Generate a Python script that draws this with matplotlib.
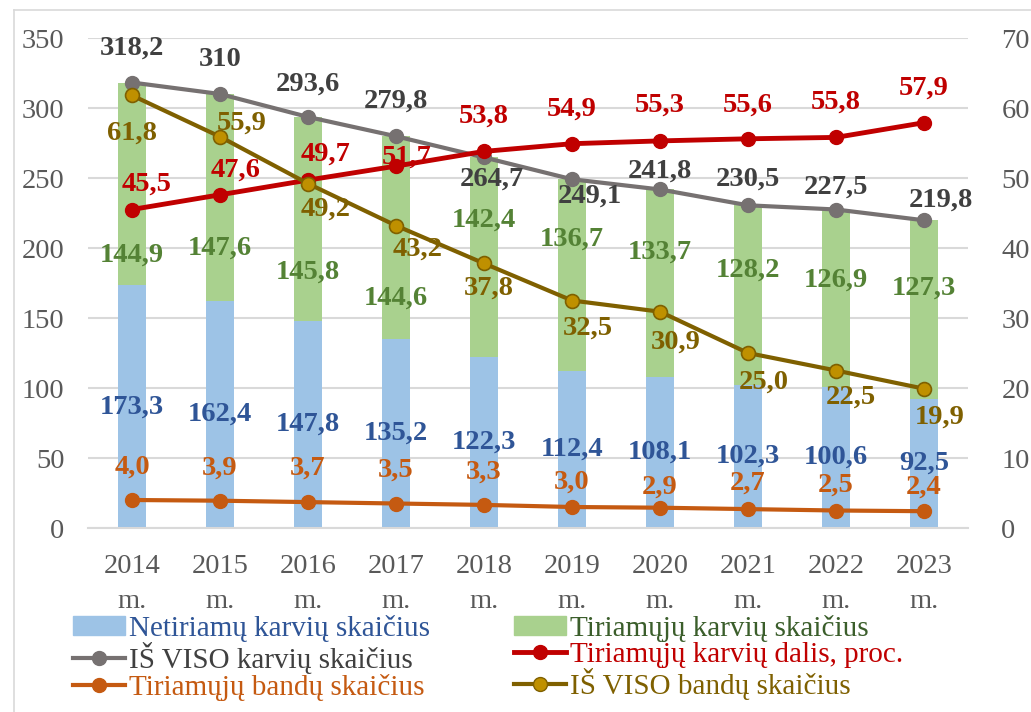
import numpy as np
import matplotlib
matplotlib.use("Agg")
import matplotlib.pyplot as plt
from matplotlib.patches import Patch
from matplotlib.lines import Line2D

plt.rcParams["font.family"] = ["Liberation Serif", "DejaVu Serif"]

years = ["2014\nm.", "2015\nm.", "2016\nm.", "2017\nm.", "2018\nm.",
         "2019\nm.", "2020\nm.", "2021\nm.", "2022\nm.", "2023\nm."]
netiriamu = [173.3, 162.4, 147.8, 135.2, 122.3, 112.4, 108.1, 102.3, 100.6, 92.5]
tiriamuju = [144.9, 147.6, 145.8, 144.6, 142.4, 136.7, 133.7, 128.2, 126.9, 127.3]
is_viso_karviu = [318.2, 310, 293.6, 279.8, 264.7, 249.1, 241.8, 230.5, 227.5, 219.8]
dalis_proc = [45.5, 47.6, 49.7, 51.7, 53.8, 54.9, 55.3, 55.6, 55.8, 57.9]
tir_bandu = [4.0, 3.9, 3.7, 3.5, 3.3, 3.0, 2.9, 2.7, 2.5, 2.4]
is_viso_bandu = [61.8, 55.9, 49.2, 43.2, 37.8, 32.5, 30.9, 25.0, 22.5, 19.9]

# label placement (pixel offsets from the point, as in the source chart)
gray_off = [(0, 34), (0, 35), (0, 33), (0, 35), (8, -22), (18, -17), (0, 18), (0, 26), (0, 22), (17, 20)]
red_off = [(15, 25), (16, 25), (18, 26), (11, 9), (0, 35), (0, 35), (0, 36), (0, 34), (0, 35), (0, 35)]
brown_off = [(0, -38), (22, 14), (18, -26), (22, -24), (5, -25), (16, -28), (16, -30), (16, -29), (15, -27), (16, -28)]
orange_off = [(0, 33), (0, 33), (0, 34), (0, 33), (0, 33), (0, 25), (0, 21), (0, 26), (0, 25), (0, 24)]
green_lbl_y = [195, 200, 183, 164, 220, 206, 197, 184, 177, 171]

c_blue, c_green = "#9DC3E6", "#A9D18E"
c_gray, c_red, c_orange = "#767171", "#C00000", "#C55A11"
c_brown, c_brown_face = "#7F6000", "#BF9000"

fig = plt.figure(figsize=(10.31, 7.12), dpi=100)
ax = fig.add_axes([88 / 1031, 1 - 528 / 712, 880 / 1031, 490 / 712])
ax2 = ax.twinx()

x = np.arange(len(years))
fs = 20.5

ax.bar(x, netiriamu, width=0.31, color=c_blue, zorder=2)
ax.bar(x, tiriamuju, width=0.31, bottom=netiriamu, color=c_green, zorder=2)
ax.plot(x, is_viso_karviu, color=c_gray, lw=3, marker="o", ms=10, zorder=3)

ax2.plot(x, dalis_proc, color=c_red, lw=3.5, marker="o", ms=10, zorder=3)
ax2.plot(x, tir_bandu, color=c_orange, lw=3, marker="o", ms=10, zorder=3)
ax2.plot(x, is_viso_bandu, color=c_brown, lw=3, marker="o", ms=10,
         mfc=c_brown_face, mec=c_brown, mew=1.2, zorder=3)

def fmt(v):
    s = f"{v:.1f}".replace(".", ",")
    return "310" if v == 310 else s

for i in x:
    ax.text(i, netiriamu[i] / 2, fmt(netiriamu[i]), ha="center", va="center",
            fontsize=fs, fontweight="bold", color="#2F5597", zorder=5)
    ax.text(i, green_lbl_y[i], fmt(tiriamuju[i]), ha="center", va="center",
            fontsize=fs, fontweight="bold", color="#548235", zorder=5)
    ax.annotate(fmt(is_viso_karviu[i]), (i, is_viso_karviu[i]), xytext=gray_off[i],
                textcoords="offset pixels", ha="center", va="center",
                fontsize=fs, fontweight="bold", color="#404040", zorder=5)
    ax2.annotate(fmt(dalis_proc[i]), (i, dalis_proc[i]), xytext=red_off[i],
                 textcoords="offset pixels", ha="center", va="center",
                 fontsize=fs, fontweight="bold", color=c_red, zorder=5)
    ax2.annotate(fmt(tir_bandu[i]), (i, tir_bandu[i]), xytext=orange_off[i],
                 textcoords="offset pixels", ha="center", va="center",
                 fontsize=fs, fontweight="bold", color=c_orange, zorder=5)
    ax2.annotate(fmt(is_viso_bandu[i]), (i, is_viso_bandu[i]), xytext=brown_off[i],
                 textcoords="offset pixels", ha="center", va="center",
                 fontsize=fs, fontweight="bold", color=c_brown, zorder=5)

ax.set_xlim(-0.5, len(years) - 0.5)
ax.set_ylim(0, 350)
ax2.set_ylim(0, 70)
ax.set_yticks(range(0, 351, 50))
ax2.set_yticks(range(0, 71, 10))
ax.set_xticks(x)
ax.set_xticklabels(years, fontsize=fs, color="#595959", linespacing=1.5)
ax.tick_params(axis="y", labelsize=fs, labelcolor="#595959", length=0, pad=17)
ax2.tick_params(axis="y", labelsize=fs, labelcolor="#595959", length=0, pad=24)
ax.tick_params(axis="x", length=0, pad=19)
ax.grid(axis="y", color="#D9D9D9", lw=1.5, zorder=0)
ax.set_axisbelow(True)
for a in (ax, ax2):
    for s in a.spines.values():
        s.set_visible(False)
ax.spines["bottom"].set_visible(True)
ax.spines["bottom"].set_color("#D9D9D9")
ax.spines["bottom"].set_linewidth(1.5)

# outer chart border
fig.add_artist(Line2D([14 / 1031, 14 / 1031], [0, 1 - 10 / 712], color="#D9D9D9", lw=1.2))
fig.add_artist(Line2D([14 / 1031, 1], [1 - 10 / 712, 1 - 10 / 712], color="#D9D9D9", lw=1.2))

handles = [
    Patch(color=c_blue),
    Line2D([], [], color=c_gray, lw=3, marker="o", ms=10),
    Line2D([], [], color=c_orange, lw=3, marker="o", ms=10),
    Patch(color=c_green),
    Line2D([], [], color=c_red, lw=3.5, marker="o", ms=10),
    Line2D([], [], color=c_brown, lw=3, marker="o", ms=10, mfc=c_brown_face, mec=c_brown),
]
labels = ["Netiriamų karvių skaičius", "IŠ VISO karvių skaičius", "Tiriamųjų bandų skaičius",
          "Tiriamųjų karvių skaičius", "Tiriamųjų karvių dalis, proc.", "IŠ VISO bandų skaičius"]
text_colors = ["#2F5597", "#404040", c_orange, "#3B5E2B", c_red, c_brown]
leg = fig.legend(handles, labels, ncol=2, loc="upper left", bbox_to_anchor=(58 / 1031, 1 - 600 / 712),
                 frameon=False, fontsize=21, handlelength=1.8, handleheight=0.6,
                 handletextpad=0.15, labelspacing=0.0, columnspacing=2.85, borderpad=0)
for t, c in zip(leg.get_texts(), text_colors):
    t.set_color(c)

fig.savefig("out.png", dpi=100)
